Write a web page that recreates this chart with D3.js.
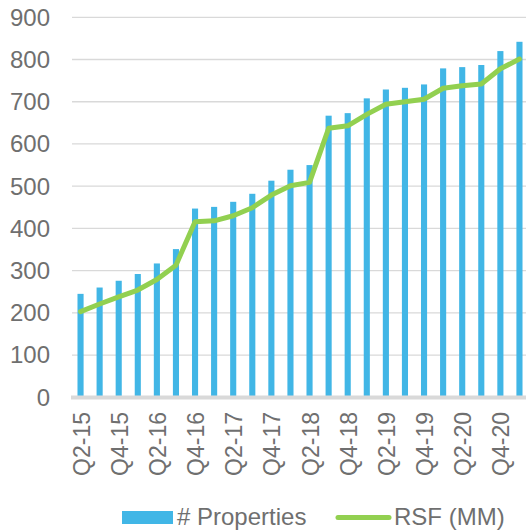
<!DOCTYPE html>
<html>
<head>
<meta charset="utf-8">
<script src="https://cdn.jsdelivr.net/npm/d3@7"></script>
<style>
	body { margin: 0; background: #fff; }
	svg { display: block; }
</style>
</head>
<body>
<div id="chart"></div>
<script>
// quarterly properties count and RSF (MM)
var quarters = ["Q2-15", "Q3-15", "Q4-15", "Q1-16", "Q2-16", "Q3-16", "Q4-16", "Q1-17",
	"Q2-17", "Q3-17", "Q4-17", "Q1-18", "Q2-18", "Q3-18", "Q4-18", "Q1-19",
	"Q2-19", "Q3-19", "Q4-19", "Q1-20", "Q2-20", "Q3-20", "Q4-20", "Q1-21"];
var properties = [245, 260, 276, 292, 317, 351, 447, 451, 463, 482, 513, 539,
	550, 667, 673, 708, 729, 733, 741, 779, 782, 787, 820, 842];
var rsf = [203, 221, 238, 254, 279, 313, 416, 418, 430, 449, 479, 501,
	509, 637, 643, 670, 694, 700, 706, 732, 738, 742, 778, 801];
var yTicks = [0, 100, 200, 300, 400, 500, 600, 700, 800, 900];
var shownLabels = quarters.filter(function(d, i) { return i % 2 === 0; });

var w = 526,
	h = 531,
	barColor = "#41b6e6",
	lineColor = "#92d050",
	textColor = "#6f6f6f",
	gridColor = "#d9d9d9";

var svg = d3.select("#chart")
	.append("svg")
	.attr("width", w)
	.attr("height", h);

var x = d3.scaleBand()
	.domain(quarters)
	.range([71, 529])
	.paddingInner(0.68)
	.paddingOuter(0.34);

var y = d3.scaleLinear()
	.domain([0, 900])
	.range([397.3, 17.3]);

// gridlines
svg.append("g")
	.selectAll("line")
	.data(yTicks.slice(1))
	.enter().append("line")
	.attr("x1", 72)
	.attr("x2", w)
	.attr("y1", function(d) { return y(d); })
	.attr("y2", function(d) { return y(d); })
	.attr("stroke", gridColor)
	.attr("stroke-width", 1.3);

// y labels
svg.append("g")
	.selectAll("text")
	.data(yTicks)
	.enter().append("text")
	.attr("x", 50)
	.attr("y", function(d) { return y(d); })
	.attr("dy", "0.35em")
	.attr("text-anchor", "end")
	.attr("font-family", "Liberation Sans, Arial, sans-serif")
	.attr("font-size", 24)
	.attr("fill", textColor)
	.text(function(d) { return d; });

// bars
svg.append("g")
	.selectAll("rect")
	.data(properties)
	.enter().append("rect")
	.attr("x", function(d, i) { return x(quarters[i]); })
	.attr("y", function(d) { return y(d); })
	.attr("width", x.bandwidth())
	.attr("height", function(d) { return y(0) - y(d); })
	.attr("fill", barColor);

// baseline
svg.append("line")
	.attr("x1", 71)
	.attr("x2", w)
	.attr("y1", y(0) + 0.3)
	.attr("y2", y(0) + 0.3)
	.attr("stroke", gridColor)
	.attr("stroke-width", 4);

// rsf line
var line = d3.line()
	.x(function(d, i) { return x(quarters[i]) + x.bandwidth() / 2; })
	.y(function(d) { return y(d); });

svg.append("path")
	.datum(rsf)
	.attr("d", line)
	.attr("fill", "none")
	.attr("stroke", lineColor)
	.attr("stroke-width", 5)
	.attr("stroke-linejoin", "round")
	.attr("stroke-linecap", "round");

// x labels, rotated
svg.append("g")
	.selectAll("text")
	.data(shownLabels)
	.enter().append("text")
	.attr("transform", function(d) {
		return "translate(" + (x(d) + x.bandwidth() / 2 + 1) + "," + 412 + ") rotate(-90)";
	})
	.attr("text-anchor", "end")
	.attr("dy", "0.35em")
	.attr("font-family", "Liberation Sans, Arial, sans-serif")
	.attr("font-size", 23)
	.attr("fill", textColor)
	.text(function(d) { return d; });

// legend
var legend = svg.append("g");

legend.append("rect")
	.attr("x", 122)
	.attr("y", 511)
	.attr("width", 51)
	.attr("height", 13)
	.attr("fill", barColor);

legend.append("text")
	.attr("x", 177)
	.attr("y", 525)
	.attr("font-family", "Liberation Sans, Arial, sans-serif")
	.attr("font-size", 24)
	.attr("fill", textColor)
	.text("# Properties");

legend.append("line")
	.attr("x1", 338)
	.attr("x2", 389)
	.attr("y1", 517.5)
	.attr("y2", 517.5)
	.attr("stroke", lineColor)
	.attr("stroke-width", 5)
	.attr("stroke-linecap", "round");

legend.append("text")
	.attr("x", 394)
	.attr("y", 525)
	.attr("font-family", "Liberation Sans, Arial, sans-serif")
	.attr("font-size", 24)
	.attr("fill", textColor)
	.text("RSF (MM)");
</script>
</body>
</html>
